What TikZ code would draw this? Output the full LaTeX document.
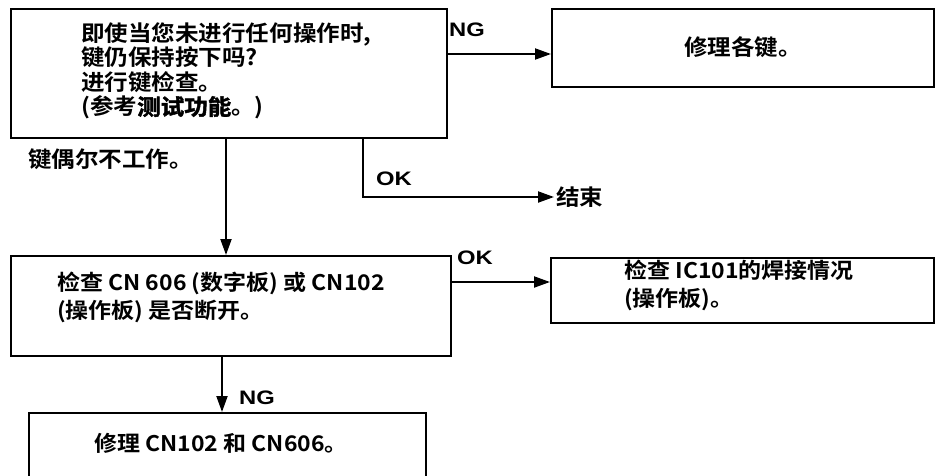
\documentclass[tikz,border=0pt]{standalone}
\usepackage{fontspec}
\setmainfont{Noto Sans CJK SC}[UprightFont=* Bold, BoldFont=* Bold, FakeStretch=1.07]
\newfontfamily\heavy{Noto Sans CJK SC}[UprightFont=* Bold, FakeBold=2, FakeStretch=1.07]
\newfontfamily\lblfont{Liberation Sans}[UprightFont=* Bold, FakeStretch=1.22]
\usetikzlibrary{arrows.meta,calc}
\begin{document}
\begin{tikzpicture}[x=1pt,y=-1pt,
  box/.style={draw, line width=2.2pt, rectangle, anchor=north west, inner sep=0pt},
  txt/.style={font=\fontsize{22}{24.5}\selectfont, align=left, inner sep=2pt},
  ntxt/.style={font=\fontsize{21.5}{28}\selectfont, align=left, inner sep=2pt},
  lbl/.style={font=\fontsize{19.5}{22}\selectfont\lblfont, inner sep=1pt},
  arr/.style={line width=2pt, -{Triangle[length=16pt,width=11pt]}},
  ln/.style={line width=2pt}]
\useasboundingbox (0,0) rectangle (935,475);
% boxes
\node[box, minimum width=436pt, minimum height=129pt] (b1) at (10,8) {};
\node[box, minimum width=382pt, minimum height=78pt] (b2) at (551,8) {};
\node[box, minimum width=440pt, minimum height=100pt] (b3) at (10,255) {};
\node[box, minimum width=383pt, minimum height=65pt] (b5) at (550,257) {};
\node[box, minimum width=397pt, minimum height=80pt] (b4) at (28,412) {};
% texts
\node[txt, anchor=west] (t1) at (79,71) {即使当您未进行任何操作时,\\键仍保持按下吗?\\进行键检查。\\(参考{\heavy 测试功能}。)};
\node[txt] (t2) at (743,47) {修理各键。};
\node[ntxt, anchor=west] (t3) at (55,297) {检查 CN 606 (数字板) 或 CN102\\(操作板) 是否断开。};
\node[ntxt, anchor=west] (t5) at (622,285) {检查 IC101的焊接情况\\(操作板)。};
\node[ntxt, anchor=west] (t4) at (92,443) {修理 CN102 和 CN606。};
\node[txt, anchor=west] (k) at (26,159) {键偶尔不工作。};
\node[txt, anchor=west] (endn) at (554,197) {结束};
% labels
\node[lbl, anchor=west] (lng1) at (448,30) {NG};
\node[lbl, anchor=west] (lok1) at (375,179) {OK};
\node[lbl, anchor=west] (lok2) at (456,258) {OK};
\node[lbl, anchor=west] (lng2) at (238,398) {NG};
% connectors
\coordinate (c1) at (446,54);
\draw[arr] (c1) -- (c1 -| b2.west);
\coordinate (c2) at (363,137);
\draw[arr] (c2) |- (endn.west);
\coordinate (c3) at (226,137);
\draw[arr] (c3) -- (c3 |- b3.north);
\coordinate (c4) at (450,282);
\draw[arr] (c4) -- (c4 -| b5.west);
\coordinate (c5) at (222,355);
\draw[arr] (c5) -- (c5 |- b4.north);
\end{tikzpicture}
\end{document}
